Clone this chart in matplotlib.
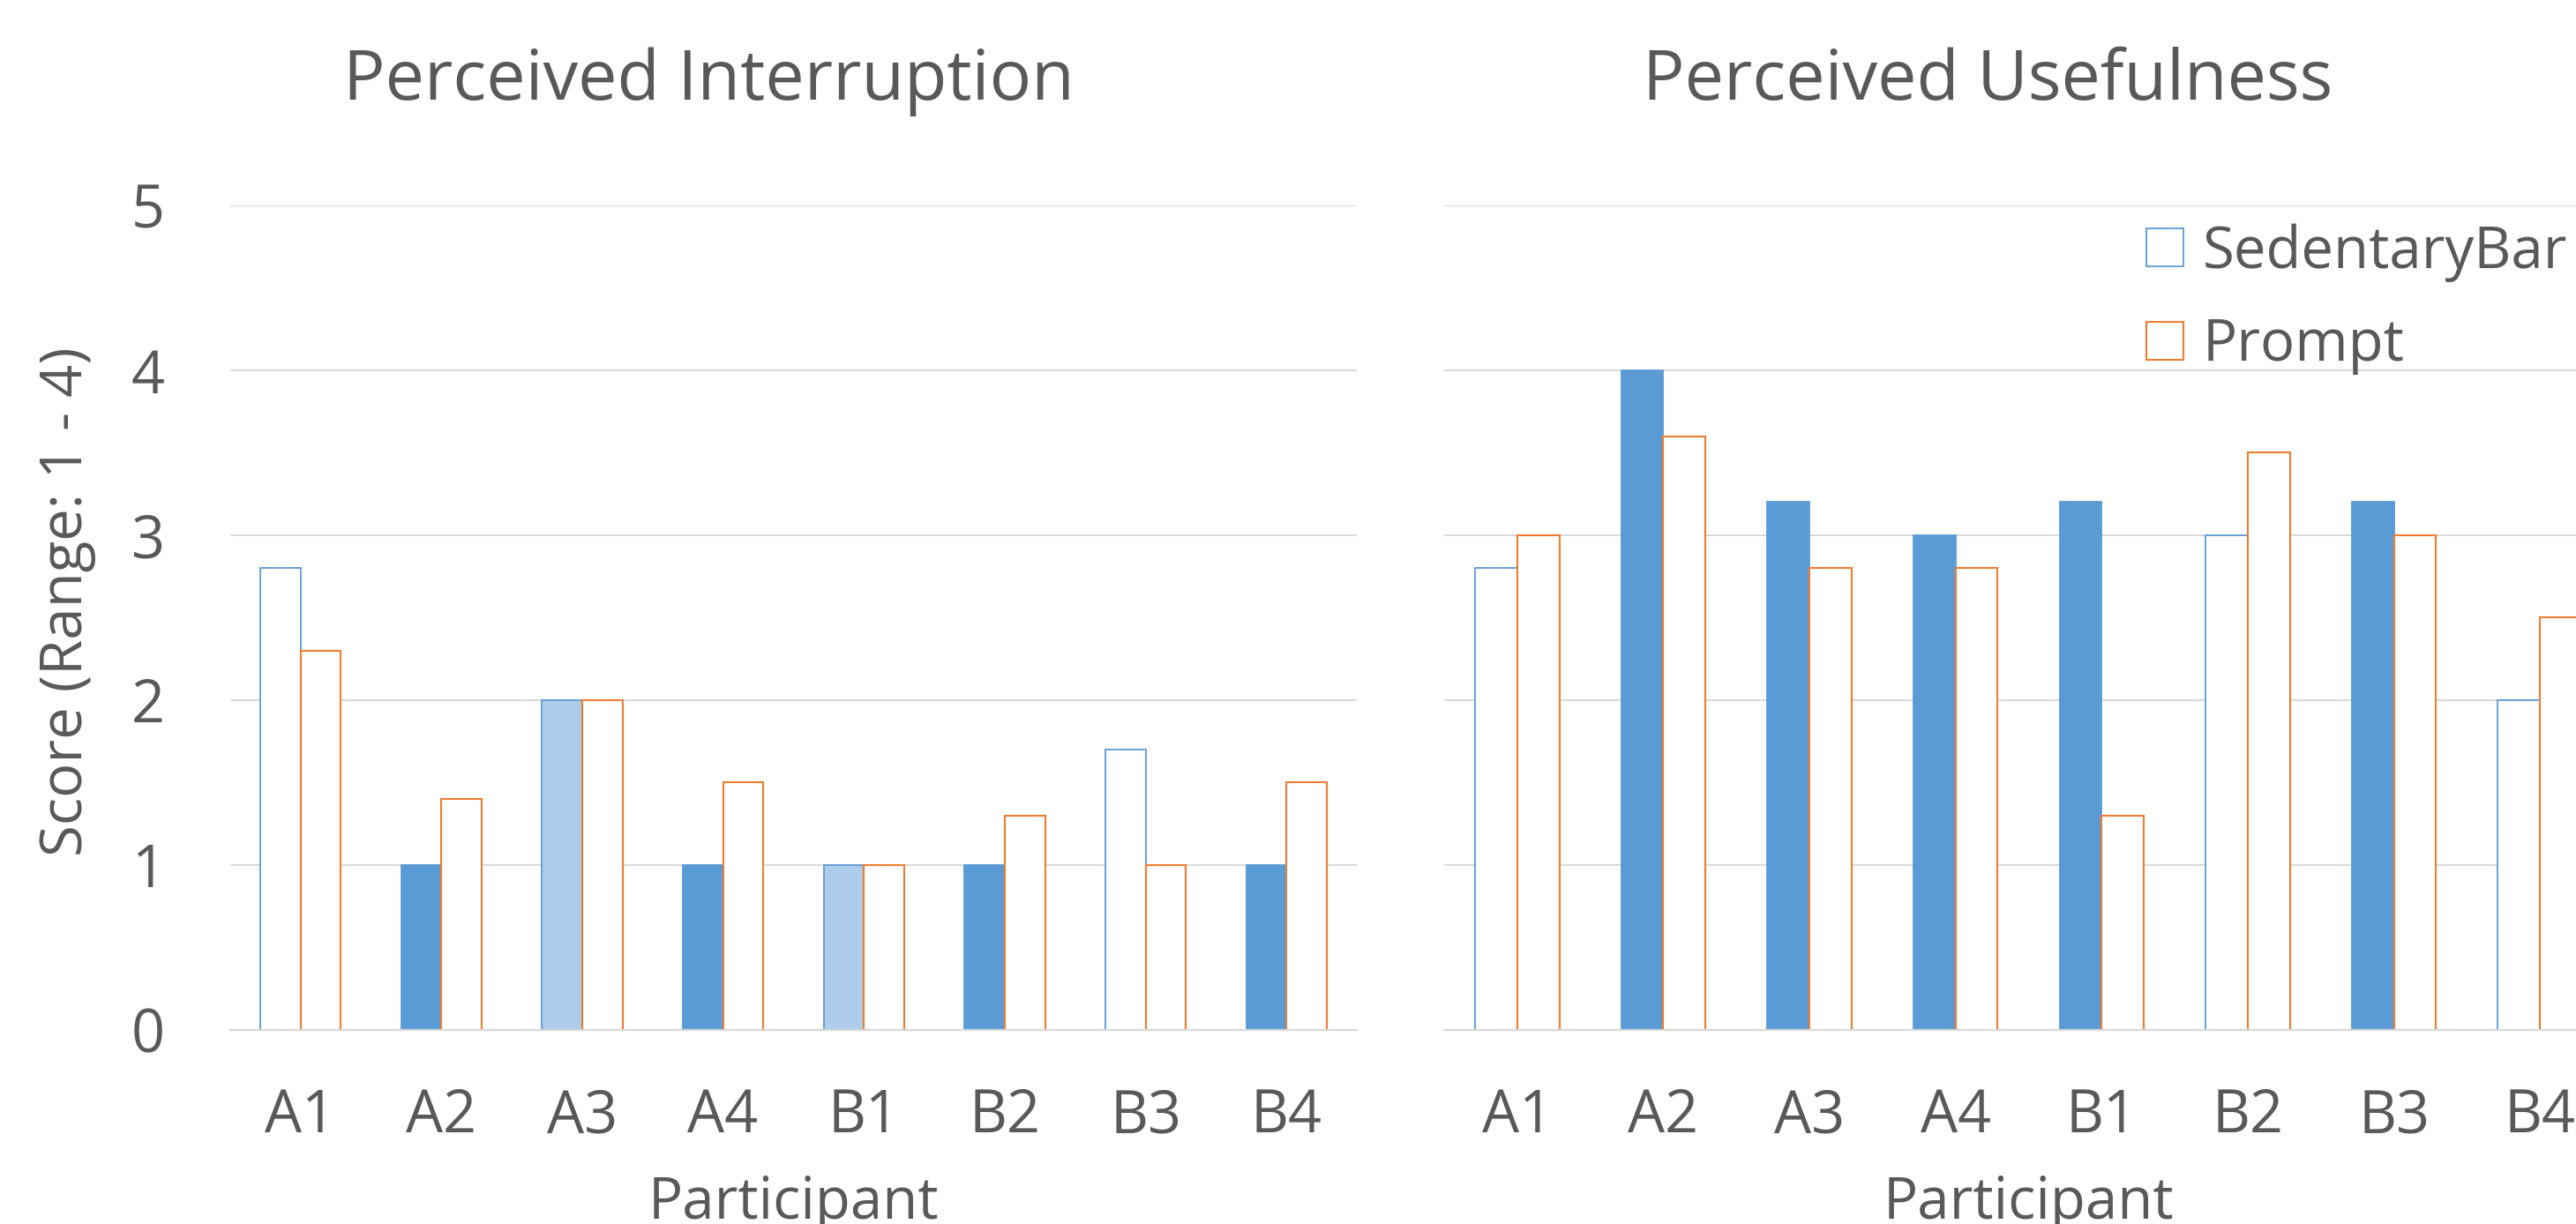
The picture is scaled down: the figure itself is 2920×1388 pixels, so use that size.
import matplotlib
matplotlib.use('Agg')
import matplotlib.pyplot as plt
from matplotlib.patches import Patch

plt.rcParams['font.family'] = ['Open Sans', 'DejaVu Sans']

# data
participants = ['A1', 'A2', 'A3', 'A4', 'B1', 'B2', 'B3', 'B4']
interrupt_bar = [2.8, 1.0, 2.0, 1.0, 1.0, 1.0, 1.7, 1.0]
interrupt_prompt = [2.3, 1.4, 2.0, 1.5, 1.0, 1.3, 1.0, 1.5]
interrupt_kind = ['none', 'full', 'light', 'full', 'light', 'full', 'none', 'full']
useful_bar = [2.8, 4.0, 3.2, 3.0, 3.2, 3.0, 3.2, 2.0]
useful_prompt = [3.0, 3.6, 2.8, 2.8, 1.3, 3.5, 3.0, 2.5]
useful_kind = ['none', 'full', 'full', 'full', 'full', 'none', 'full', 'none']

blue = '#5B9BD5'
light_blue = '#AECDEA'
orange = '#ED7D31'
grey_text = '#595959'
grid_col = '#D9D9D9'
fills = {'none': 'white', 'full': blue, 'light': light_blue}

W, H = 2920, 1388
fig = plt.figure(figsize=(W / 100, H / 100), dpi=100)

def px_rect(left, right, bottom, top):
    return [left / W, 1 - bottom / H, (right - left) / W, (bottom - top) / H]

ax1 = fig.add_axes(px_rect(260.7, 1538, 1167.6, 232.8))
ax2 = fig.add_axes(px_rect(1637, 2962, 1167.6, 232.8))

def draw(ax, bar_vals, prompt_vals, kinds, w):
    x = list(range(len(participants)))
    ax.bar([i - w / 2 for i in x], bar_vals, width=w,
           color=[fills[k] for k in kinds], edgecolor=blue, linewidth=1.3, zorder=2)
    ax.bar([i + w / 2 for i in x], prompt_vals, width=w,
           color='white', edgecolor=orange, linewidth=1.5, zorder=2)
    ax.set_xlim(-0.5, 7.5)
    ax.set_ylim(0, 5)
    ax.set_yticks(range(6))
    ax.set_xticks(x)
    ax.set_xticklabels(participants)
    ax.yaxis.grid(True, color=grid_col, linewidth=1.4)
    ax.set_axisbelow(True)
    for s in ['top', 'right', 'left']:
        ax.spines[s].set_visible(False)
    ax.spines['bottom'].set_color(grid_col)
    ax.spines['bottom'].set_linewidth(1.6)
    ax.tick_params(axis='both', length=0, labelsize=48, colors=grey_text)
    ax.tick_params(axis='x', pad=47)
    ax.tick_params(axis='y', pad=53)
    ax.set_xlabel('Participant', fontsize=47, color=grey_text, va='top')
    ax.xaxis.set_label_coords(0.5, -0.176)

draw(ax1, interrupt_bar, interrupt_prompt, interrupt_kind, 0.286)
draw(ax2, useful_bar, useful_prompt, useful_kind, 0.288)
ax2.tick_params(axis='y', labelleft=False)

ax1.set_ylabel('Score (Range: 1 - 4)', fontsize=47, color=grey_text)
ax1.yaxis.label.set_verticalalignment('center')
ax1.yaxis.set_label_coords(-0.1446, 0.5195)

fig.text(803 / W, 1 - 112.7 / H, 'Perceived Interruption', fontsize=57,
         color=grey_text, ha='center', va='baseline')
fig.text(2253 / W, 1 - 112.7 / H, 'Perceived Usefulness', fontsize=57,
         color=grey_text, ha='center', va='baseline')

handles = [Patch(facecolor='white', edgecolor=blue, linewidth=1.3),
           Patch(facecolor='white', edgecolor=orange, linewidth=1.5)]
fig.legend(handles, ['SedentaryBar', 'Prompt'], loc='upper left',
           bbox_to_anchor=(2433 / W, 1 - 253 / H), frameon=False,
           fontsize=47, labelcolor=grey_text, borderpad=0, borderaxespad=0,
           handlelength=0.65, handleheight=0.63, handletextpad=0.33,
           labelspacing=0.61)

fig.savefig('out.png', dpi=100)
